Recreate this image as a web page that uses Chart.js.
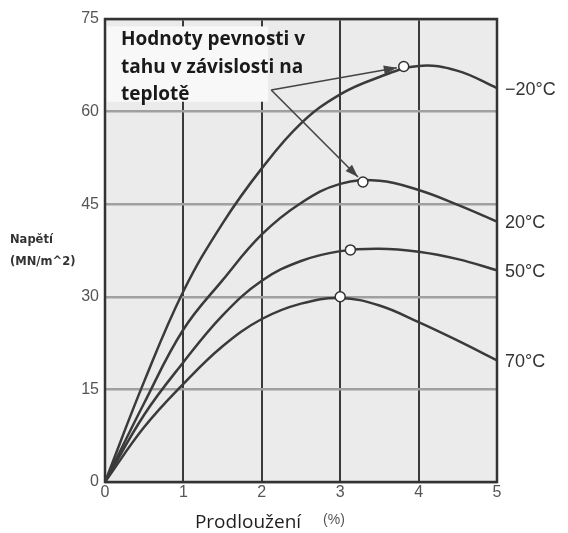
<!DOCTYPE html>
<html>
<head>
<meta charset="utf-8">
<script src="https://cdn.jsdelivr.net/npm/chart.js@4/dist/chart.umd.min.js"></script>
<style>
  html, body { margin: 0; padding: 0; background: #ffffff; }
  #wrap { width: 568px; height: 533px; }
</style>
</head>
<body>
<div id="wrap"><canvas id="c" width="568" height="533"></canvas></div>
<script>
// ---- data ----
const elongation = [0, 0.5, 1, 1.5, 2, 2.5, 3, 3.5, 4, 4.5, 5];            // %
const seriesNames = ["−20°C", "20°C", "50°C", "70°C"];
const stressM20 = [0, 16.3, 30.9, 41.9, 50.8, 58.1, 62.8, 65.6, 67.4, 66.6, 63.8];
const stress20  = [0, 12.8, 24.7, 32.7, 40.1, 45.2, 48.3, 48.8, 47.3, 44.9, 42.2];
const stress50  = [0, 10.9, 19.4, 27.0, 32.6, 35.8, 37.4, 37.8, 37.3, 36.1, 34.3];
const stress70  = [0,  8.9, 15.9, 22.0, 26.4, 28.9, 29.8, 28.6, 25.9, 22.9, 19.7];
const peakX = [3.81, 3.29, 3.13, 3.0];
const peakY = [67.3, 48.6, 37.6, 30.0];
const xTicks = [0, 1, 2, 3, 4, 5];
const yTicks = [0, 15, 30, 45, 60, 75];
const boxLines = ["Hodnoty pevnosti v", "tahu v závislosti na", "teplotě"];
const xTitle = "Prodloužení";
const xUnit = "(%)";
const yTitleLines = ["Napětí", "(MN/m^2)"];

const allSeries = [stressM20, stress20, stress50, stress70];
const LINE = "#3a3a3a";

const datasets = allSeries.map((vals, i) => ({
  label: seriesNames[i],
  data: elongation.map((x, j) => ({ x: x, y: vals[j] })),
  borderColor: LINE,
  borderWidth: 2.5,
  pointRadius: 0,
  fill: false,
  tension: 0.4,
  order: 2
}));
datasets.push({
  label: "peaks",
  data: peakX.map((x, i) => ({ x: x, y: peakY[i] })),
  showLine: false,
  pointRadius: 5,
  pointBackgroundColor: "#ffffff",
  pointBorderColor: "#333333",
  pointBorderWidth: 1.5,
  order: 0
});

const decor = {
  id: "decor",
  beforeDraw(chart) {
    const { ctx, chartArea: a } = chart;
    ctx.save();
    ctx.fillStyle = "#ebebeb";
    ctx.fillRect(a.left, a.top, a.right - a.left, a.bottom - a.top);
    ctx.restore();
  },
  beforeDatasetsDraw(chart) {
    const { ctx, chartArea: a, scales } = chart;
    const xs = scales.x, ys = scales.y;
    ctx.save();
    // white annotation box
    const bx0 = xs.getPixelForValue(0.02), bx1 = xs.getPixelForValue(2.08);
    const by0 = ys.getPixelForValue(73.8), by1 = ys.getPixelForValue(61.6);
    ctx.fillStyle = "#f8f8f8";
    ctx.fillRect(bx0, by0, bx1 - bx0, by1 - by0);
    ctx.fillStyle = "#1a1a1a";
    ctx.font = "bold 19px 'Open Sans'";
    ctx.textBaseline = "middle";
    ctx.textAlign = "left";
    boxLines.forEach((t, i) => ctx.fillText(t, a.left + 16, a.top + 21 + i * 27.5));
    // frame
    ctx.strokeStyle = "#333333";
    ctx.lineWidth = 2.5;
    ctx.strokeRect(a.left, a.top, a.right - a.left, a.bottom - a.top);
    ctx.restore();
  },
  afterDatasetsDraw(chart) {
    const { ctx, chartArea: a, scales } = chart;
    const xs = scales.x, ys = scales.y;
    ctx.save();
    // arrows from the annotation to the first two peaks
    const sx = xs.getPixelForValue(2.12), sy = ys.getPixelForValue(63.5);
    [0, 1].forEach(i => {
      const tx = xs.getPixelForValue(peakX[i]), ty = ys.getPixelForValue(peakY[i]);
      const ang = Math.atan2(ty - sy, tx - sx);
      const ex = tx - Math.cos(ang) * 7, ey = ty - Math.sin(ang) * 7;
      ctx.strokeStyle = "#444";
      ctx.lineWidth = 1.6;
      ctx.beginPath(); ctx.moveTo(sx, sy); ctx.lineTo(ex, ey); ctx.stroke();
      ctx.fillStyle = "#444";
      ctx.beginPath();
      ctx.moveTo(ex, ey);
      ctx.lineTo(ex - Math.cos(ang) * 13 + Math.sin(ang) * 4.5, ey - Math.sin(ang) * 13 - Math.cos(ang) * 4.5);
      ctx.lineTo(ex - Math.cos(ang) * 13 - Math.sin(ang) * 4.5, ey - Math.sin(ang) * 13 + Math.cos(ang) * 4.5);
      ctx.closePath(); ctx.fill();
    });
    // series labels at the right end
    ctx.fillStyle = "#333333";
    ctx.font = "18px 'Liberation Sans'";
    ctx.textAlign = "left";
    ctx.textBaseline = "middle";
    allSeries.forEach((vals, i) => {
      ctx.fillText(seriesNames[i], a.right + 8, ys.getPixelForValue(vals[vals.length - 1]) + 2);
    });
    // x-axis title
    ctx.fillStyle = "#1e1e1e";
    ctx.font = "19px 'Open Sans'";
    ctx.textAlign = "center";
    ctx.fillText(xTitle, a.left + 143, a.bottom + 41);
    ctx.fillStyle = "#555";
    ctx.font = "14px 'Liberation Sans'";
    ctx.fillText(xUnit, a.left + 229, a.bottom + 38);
    // y-axis title
    ctx.fillStyle = "#333";
    ctx.font = "bold 11.5px 'DejaVu Sans'";
    ctx.textAlign = "left";
    yTitleLines.forEach((t, i) => ctx.fillText(t, 10, 240 + i * 22));
    ctx.restore();
  }
};

new Chart(document.getElementById("c"), {
  type: "line",
  data: { datasets },
  options: {
    responsive: false,
    animation: false,
    devicePixelRatio: 1,
    layout: { padding: { left: 0, right: 71, top: 19, bottom: 0 } },
    plugins: { legend: { display: false }, tooltip: { enabled: false } },
    scales: {
      x: {
        type: "linear",
        min: 0, max: 5,
        afterBuildTicks: s => { s.ticks = xTicks.map(v => ({ value: v })); },
        afterFit: s => { s.height = 51; },
        ticks: { color: "#555", font: { family: "Liberation Sans", size: 16 }, padding: 1, maxRotation: 0 },
        grid: { color: "#3a3a3a", lineWidth: 2, drawTicks: false },
        border: { display: false }
      },
      y: {
        min: 0, max: 75,
        afterBuildTicks: s => { s.ticks = yTicks.map(v => ({ value: v })); },
        afterFit: s => { s.width = 105; },
        ticks: { color: "#555", font: { family: "Liberation Sans", size: 16 }, padding: 6 },
        grid: { color: "#a0a0a0", lineWidth: 2.5, drawTicks: false },
        border: { display: false }
      }
    }
  },
  plugins: [decor]
});
</script>
</body>
</html>
